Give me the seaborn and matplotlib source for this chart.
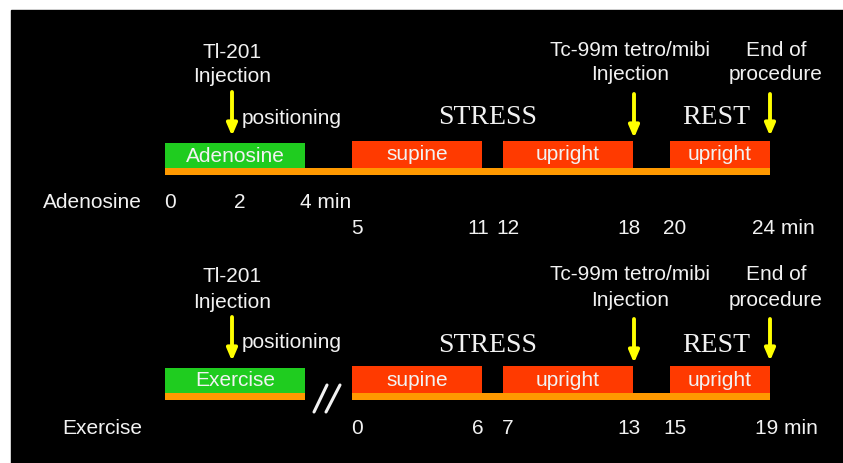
import numpy as np
import matplotlib.pyplot as plt
import seaborn as sns
from matplotlib.patches import Rectangle

# ---- timeline data (minutes) ----
pre_start, pre_end = 0, 4            # adenosine infusion / exercise
tl_injection = 2                     # Tl-201 injection during pre phase
adeno_pre_ticks = [0, 2, 4]

stress_segments = [("supine", 5, 11), ("upright", 12, 18)]
rest_segments = [("upright", 20, 24)]
tc_injection = 18
end_of_procedure = 24

adeno_main_ticks = [5, 11, 12, 18, 20, 24]
exercise_ticks = [0, 6, 7, 13, 15, 19]   # same events, exercise clock
exercise_offset = 5

rows = [
    {"pre_label": "Adenosine", "dy": 0, "bridge": True},
    {"pre_label": "Exercise", "dy": 225, "bridge": False},
]

GREEN = "#1fcc1f"
RED = "#ff3a00"
ORANGE = "#ff9900"
YELLOW = "#ffff00"
WHITE = "#f2f2f2"

# the slide is not drawn to scale: each phase edge gets its own slot
seg_edges = [m for _, a, b in stress_segments + rest_segments for m in (a, b)]
edge_px = [352, 482, 503, 633, 670, 770]
seg_starts = [a for _, a, _ in stress_segments + rest_segments]


def x_pre(m):
    return 165 + 35 * m


def x_main(m):
    return float(np.interp(m, seg_edges, edge_px))


def tick_x(m):
    # labels sit just inside the start of a box / before its end
    return x_main(m) + (5 if m in seg_starts else -4)


sns.set_style("white")
plt.rcParams["font.family"] = ["Liberation Sans", "DejaVu Sans"]

fig = plt.figure(figsize=(8.43, 4.63), dpi=100)
fig.patch.set_facecolor("white")
ax = fig.add_axes([0, 0, 1, 1])
ax.set_xlim(0, 843)
ax.set_ylim(463, 0)
ax.axis("off")
ax.add_patch(Rectangle((11, 10), 840, 460, color="black", zorder=0))

FS = 15
bar_kw = dict(align="edge", edgecolor="none", linewidth=0, zorder=2)
arrow_kw = dict(arrowstyle="-|>,head_width=0.3,head_length=0.7",
                color=YELLOW, lw=2.8, shrinkA=0, shrinkB=0)

for row in rows:
    dy = row["dy"]
    bar_top, stripe_top = 141 + dy, 168 + dy

    # green pre-phase box
    ax.barh(bar_top + 2, x_pre(pre_end) - x_pre(pre_start), left=x_pre(pre_start),
            height=stripe_top - bar_top - 2, color=GREEN, **bar_kw)
    ax.text((x_pre(pre_start) + x_pre(pre_end)) / 2, bar_top + 15, row["pre_label"],
            color=WHITE, fontsize=FS, ha="center", va="center", zorder=3)

    # red stress / rest boxes
    for label, a, b in stress_segments + rest_segments:
        ax.barh(bar_top, x_main(b) - x_main(a), left=x_main(a),
                height=stripe_top - bar_top, color=RED, **bar_kw)
        ax.text((x_main(a) + x_main(b)) / 2, bar_top + 14, label,
                color=WHITE, fontsize=FS, ha="center", va="center", zorder=3)

    # orange base stripe
    if row["bridge"]:
        ax.barh(stripe_top, x_main(end_of_procedure) - x_pre(pre_start), left=x_pre(pre_start),
                height=7, color=ORANGE, **bar_kw)
    else:
        ax.barh(stripe_top, x_pre(pre_end) - x_pre(pre_start), left=x_pre(pre_start),
                height=7, color=ORANGE, **bar_kw)
        ax.barh(stripe_top, x_main(end_of_procedure) - x_main(5), left=x_main(5),
                height=7, color=ORANGE, **bar_kw)
        # time-break mark
        ax.plot([314, 327], [412, 385], color=WHITE, lw=2.2, solid_capstyle="round")
        ax.plot([326, 340], [412, 385], color=WHITE, lw=2.2, solid_capstyle="round")

    # annotations and arrows
    xt = x_pre(tl_injection) - 3
    ax.text(xt, 52 + dy, "Tl-201", color=WHITE, fontsize=FS, ha="center", va="center")
    ax.text(xt, 77 + dy, "Injection", color=WHITE, fontsize=FS, ha="center", va="center")
    ax.annotate("", xy=(xt, 136 + dy), xytext=(xt, 92 + dy), arrowprops=arrow_kw)
    ax.text(xt + 10, 118 + dy, "positioning", color=WHITE, fontsize=FS, ha="left", va="center")

    xc = x_main(tc_injection) + 1
    ax.text(xc - 4, 50 + dy, "Tc-99m tetro/mibi", color=WHITE, fontsize=FS, ha="center", va="center")
    ax.text(xc - 4, 75 + dy, "Injection", color=WHITE, fontsize=FS, ha="center", va="center")
    ax.annotate("", xy=(xc, 138 + dy), xytext=(xc, 94 + dy), arrowprops=arrow_kw)

    xe = x_main(end_of_procedure)
    ax.text(xe + 6, 50 + dy, "End of", color=WHITE, fontsize=FS, ha="center", va="center")
    ax.text(xe + 6, 75 + dy, "procedure", color=WHITE, fontsize=FS, ha="center", va="center")
    ax.annotate("", xy=(xe, 136 + dy), xytext=(xe, 94 + dy), arrowprops=arrow_kw)

    stress_mid = (x_main(stress_segments[0][1]) + x_main(stress_segments[-1][2])) / 2 - 5
    rest_mid = (x_main(rest_segments[0][1]) + x_main(rest_segments[-1][2])) / 2 - 4
    y_head = 117 + dy + (4 if dy else 0)
    ax.text(stress_mid, y_head, "STRESS", color=WHITE, fontsize=20,
            family="Liberation Serif", ha="center", va="center")
    ax.text(rest_mid, y_head, "REST", color=WHITE, fontsize=20,
            family="Liberation Serif", ha="center", va="center")

# ---- time labels ----
ax.text(142, 202, "Adenosine", color=WHITE, fontsize=FS, ha="right", va="center")
for m in adeno_pre_ticks:
    if m == adeno_pre_ticks[-1]:
        ax.text(x_pre(m) - 5, 202, f"{m} min", color=WHITE, fontsize=FS, ha="left", va="center")
    else:
        ax.text(x_pre(m) + 5, 202, str(m), color=WHITE, fontsize=FS, ha="center", va="center")

for m in adeno_main_ticks:
    if m == adeno_main_ticks[-1]:
        ax.text(x_main(m) - 18, 228, f"{m} min", color=WHITE, fontsize=FS, ha="left", va="center")
    else:
        ax.text(tick_x(m), 228, str(m), color=WHITE, fontsize=FS, ha="center", va="center")

ax.text(142, 428, "Exercise", color=WHITE, fontsize=FS, ha="right", va="center")
for m in exercise_ticks:
    mm = m + exercise_offset
    if m == exercise_ticks[-1]:
        ax.text(x_main(mm) - 15, 428, f"{m} min", color=WHITE, fontsize=FS, ha="left", va="center")
    else:
        ax.text(tick_x(mm), 428, str(m), color=WHITE, fontsize=FS, ha="center", va="center")

fig.savefig("out.png", dpi=100, facecolor=fig.get_facecolor())
